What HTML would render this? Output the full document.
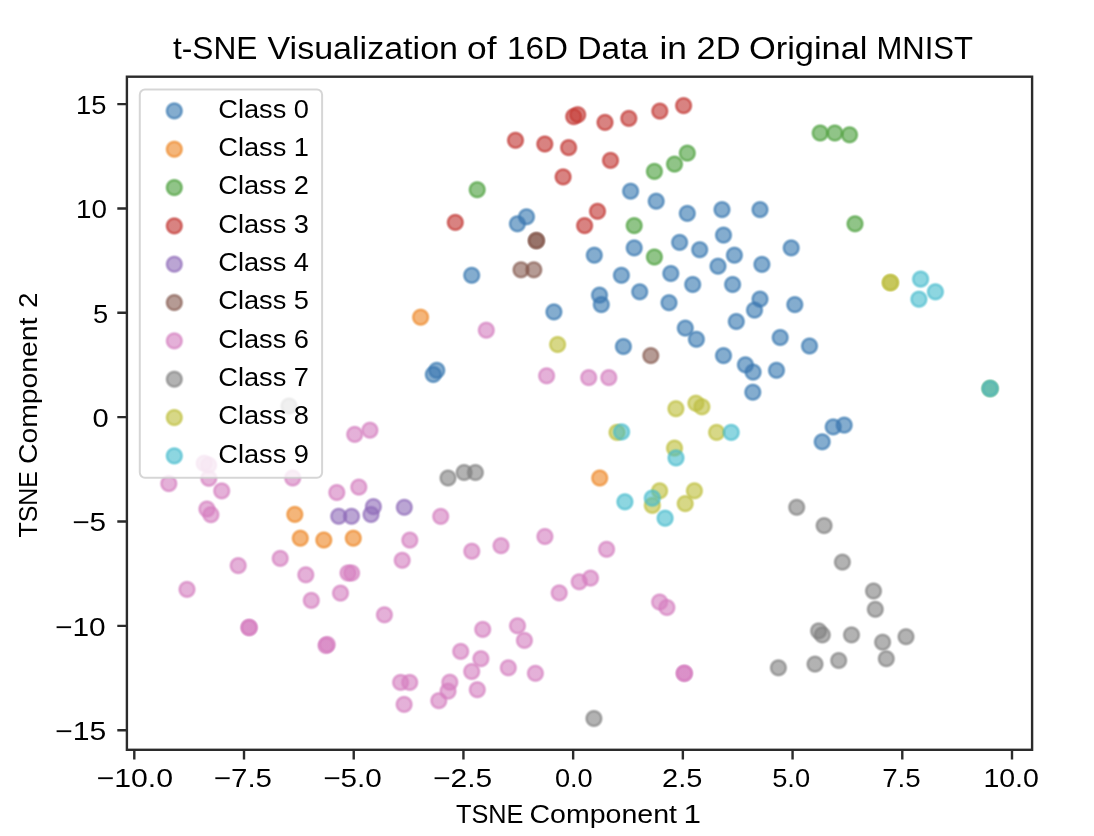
<!DOCTYPE html><html><head><meta charset="utf-8"><title>t-SNE Visualization</title>
<style>html,body{margin:0;padding:0;background:#fff;}svg{display:block;}text{font-family:"Liberation Sans", sans-serif;fill:#000;}</style></head><body>
<svg width="1094" height="836" viewBox="0 0 1094 836">
<defs><filter id="p3" filterUnits="userSpaceOnUse" x="0" y="0" width="1094" height="836" color-interpolation-filters="linearRGB"><feColorMatrix type="matrix" values="0.8225 0.1774 0 0 0 0.0332 0.9669 0 0 0 0.0171 0.0724 0.9108 0 0 0 0 0 1 0"/></filter></defs>
<g filter="url(#p3)">
<rect x="0" y="0" width="1094" height="836" fill="#fff"/>
<defs>
<radialGradient id="g0" cx="0.5" cy="0.5" r="0.5"><stop offset="0.0000" stop-color="#1f77b4" stop-opacity="0.600"/><stop offset="0.4157" stop-color="#1f77b4" stop-opacity="0.597"/><stop offset="0.4850" stop-color="#1f77b4" stop-opacity="0.625"/><stop offset="0.5312" stop-color="#1f77b4" stop-opacity="0.668"/><stop offset="0.5774" stop-color="#1f77b4" stop-opacity="0.720"/><stop offset="0.6236" stop-color="#1f77b4" stop-opacity="0.748"/><stop offset="0.6698" stop-color="#1f77b4" stop-opacity="0.731"/><stop offset="0.7160" stop-color="#1f77b4" stop-opacity="0.659"/><stop offset="0.7621" stop-color="#1f77b4" stop-opacity="0.517"/><stop offset="0.8083" stop-color="#1f77b4" stop-opacity="0.357"/><stop offset="0.8545" stop-color="#1f77b4" stop-opacity="0.205"/><stop offset="0.9007" stop-color="#1f77b4" stop-opacity="0.083"/><stop offset="0.9469" stop-color="#1f77b4" stop-opacity="0.014"/><stop offset="0.9700" stop-color="#1f77b4" stop-opacity="0.000"/></radialGradient>
<radialGradient id="g1" cx="0.5" cy="0.5" r="0.5"><stop offset="0.0000" stop-color="#ff7f0e" stop-opacity="0.600"/><stop offset="0.4157" stop-color="#ff7f0e" stop-opacity="0.597"/><stop offset="0.4850" stop-color="#ff7f0e" stop-opacity="0.625"/><stop offset="0.5312" stop-color="#ff7f0e" stop-opacity="0.668"/><stop offset="0.5774" stop-color="#ff7f0e" stop-opacity="0.720"/><stop offset="0.6236" stop-color="#ff7f0e" stop-opacity="0.748"/><stop offset="0.6698" stop-color="#ff7f0e" stop-opacity="0.731"/><stop offset="0.7160" stop-color="#ff7f0e" stop-opacity="0.659"/><stop offset="0.7621" stop-color="#ff7f0e" stop-opacity="0.517"/><stop offset="0.8083" stop-color="#ff7f0e" stop-opacity="0.357"/><stop offset="0.8545" stop-color="#ff7f0e" stop-opacity="0.205"/><stop offset="0.9007" stop-color="#ff7f0e" stop-opacity="0.083"/><stop offset="0.9469" stop-color="#ff7f0e" stop-opacity="0.014"/><stop offset="0.9700" stop-color="#ff7f0e" stop-opacity="0.000"/></radialGradient>
<radialGradient id="g2" cx="0.5" cy="0.5" r="0.5"><stop offset="0.0000" stop-color="#2ca02c" stop-opacity="0.600"/><stop offset="0.4157" stop-color="#2ca02c" stop-opacity="0.597"/><stop offset="0.4850" stop-color="#2ca02c" stop-opacity="0.625"/><stop offset="0.5312" stop-color="#2ca02c" stop-opacity="0.668"/><stop offset="0.5774" stop-color="#2ca02c" stop-opacity="0.720"/><stop offset="0.6236" stop-color="#2ca02c" stop-opacity="0.748"/><stop offset="0.6698" stop-color="#2ca02c" stop-opacity="0.731"/><stop offset="0.7160" stop-color="#2ca02c" stop-opacity="0.659"/><stop offset="0.7621" stop-color="#2ca02c" stop-opacity="0.517"/><stop offset="0.8083" stop-color="#2ca02c" stop-opacity="0.357"/><stop offset="0.8545" stop-color="#2ca02c" stop-opacity="0.205"/><stop offset="0.9007" stop-color="#2ca02c" stop-opacity="0.083"/><stop offset="0.9469" stop-color="#2ca02c" stop-opacity="0.014"/><stop offset="0.9700" stop-color="#2ca02c" stop-opacity="0.000"/></radialGradient>
<radialGradient id="g3" cx="0.5" cy="0.5" r="0.5"><stop offset="0.0000" stop-color="#d62728" stop-opacity="0.600"/><stop offset="0.4157" stop-color="#d62728" stop-opacity="0.597"/><stop offset="0.4850" stop-color="#d62728" stop-opacity="0.625"/><stop offset="0.5312" stop-color="#d62728" stop-opacity="0.668"/><stop offset="0.5774" stop-color="#d62728" stop-opacity="0.720"/><stop offset="0.6236" stop-color="#d62728" stop-opacity="0.748"/><stop offset="0.6698" stop-color="#d62728" stop-opacity="0.731"/><stop offset="0.7160" stop-color="#d62728" stop-opacity="0.659"/><stop offset="0.7621" stop-color="#d62728" stop-opacity="0.517"/><stop offset="0.8083" stop-color="#d62728" stop-opacity="0.357"/><stop offset="0.8545" stop-color="#d62728" stop-opacity="0.205"/><stop offset="0.9007" stop-color="#d62728" stop-opacity="0.083"/><stop offset="0.9469" stop-color="#d62728" stop-opacity="0.014"/><stop offset="0.9700" stop-color="#d62728" stop-opacity="0.000"/></radialGradient>
<radialGradient id="g4" cx="0.5" cy="0.5" r="0.5"><stop offset="0.0000" stop-color="#9467bd" stop-opacity="0.600"/><stop offset="0.4157" stop-color="#9467bd" stop-opacity="0.597"/><stop offset="0.4850" stop-color="#9467bd" stop-opacity="0.625"/><stop offset="0.5312" stop-color="#9467bd" stop-opacity="0.668"/><stop offset="0.5774" stop-color="#9467bd" stop-opacity="0.720"/><stop offset="0.6236" stop-color="#9467bd" stop-opacity="0.748"/><stop offset="0.6698" stop-color="#9467bd" stop-opacity="0.731"/><stop offset="0.7160" stop-color="#9467bd" stop-opacity="0.659"/><stop offset="0.7621" stop-color="#9467bd" stop-opacity="0.517"/><stop offset="0.8083" stop-color="#9467bd" stop-opacity="0.357"/><stop offset="0.8545" stop-color="#9467bd" stop-opacity="0.205"/><stop offset="0.9007" stop-color="#9467bd" stop-opacity="0.083"/><stop offset="0.9469" stop-color="#9467bd" stop-opacity="0.014"/><stop offset="0.9700" stop-color="#9467bd" stop-opacity="0.000"/></radialGradient>
<radialGradient id="g5" cx="0.5" cy="0.5" r="0.5"><stop offset="0.0000" stop-color="#8c564b" stop-opacity="0.600"/><stop offset="0.4157" stop-color="#8c564b" stop-opacity="0.597"/><stop offset="0.4850" stop-color="#8c564b" stop-opacity="0.625"/><stop offset="0.5312" stop-color="#8c564b" stop-opacity="0.668"/><stop offset="0.5774" stop-color="#8c564b" stop-opacity="0.720"/><stop offset="0.6236" stop-color="#8c564b" stop-opacity="0.748"/><stop offset="0.6698" stop-color="#8c564b" stop-opacity="0.731"/><stop offset="0.7160" stop-color="#8c564b" stop-opacity="0.659"/><stop offset="0.7621" stop-color="#8c564b" stop-opacity="0.517"/><stop offset="0.8083" stop-color="#8c564b" stop-opacity="0.357"/><stop offset="0.8545" stop-color="#8c564b" stop-opacity="0.205"/><stop offset="0.9007" stop-color="#8c564b" stop-opacity="0.083"/><stop offset="0.9469" stop-color="#8c564b" stop-opacity="0.014"/><stop offset="0.9700" stop-color="#8c564b" stop-opacity="0.000"/></radialGradient>
<radialGradient id="g6" cx="0.5" cy="0.5" r="0.5"><stop offset="0.0000" stop-color="#e377c2" stop-opacity="0.600"/><stop offset="0.4157" stop-color="#e377c2" stop-opacity="0.597"/><stop offset="0.4850" stop-color="#e377c2" stop-opacity="0.625"/><stop offset="0.5312" stop-color="#e377c2" stop-opacity="0.668"/><stop offset="0.5774" stop-color="#e377c2" stop-opacity="0.720"/><stop offset="0.6236" stop-color="#e377c2" stop-opacity="0.748"/><stop offset="0.6698" stop-color="#e377c2" stop-opacity="0.731"/><stop offset="0.7160" stop-color="#e377c2" stop-opacity="0.659"/><stop offset="0.7621" stop-color="#e377c2" stop-opacity="0.517"/><stop offset="0.8083" stop-color="#e377c2" stop-opacity="0.357"/><stop offset="0.8545" stop-color="#e377c2" stop-opacity="0.205"/><stop offset="0.9007" stop-color="#e377c2" stop-opacity="0.083"/><stop offset="0.9469" stop-color="#e377c2" stop-opacity="0.014"/><stop offset="0.9700" stop-color="#e377c2" stop-opacity="0.000"/></radialGradient>
<radialGradient id="g7" cx="0.5" cy="0.5" r="0.5"><stop offset="0.0000" stop-color="#7f7f7f" stop-opacity="0.600"/><stop offset="0.4157" stop-color="#7f7f7f" stop-opacity="0.597"/><stop offset="0.4850" stop-color="#7f7f7f" stop-opacity="0.625"/><stop offset="0.5312" stop-color="#7f7f7f" stop-opacity="0.668"/><stop offset="0.5774" stop-color="#7f7f7f" stop-opacity="0.720"/><stop offset="0.6236" stop-color="#7f7f7f" stop-opacity="0.748"/><stop offset="0.6698" stop-color="#7f7f7f" stop-opacity="0.731"/><stop offset="0.7160" stop-color="#7f7f7f" stop-opacity="0.659"/><stop offset="0.7621" stop-color="#7f7f7f" stop-opacity="0.517"/><stop offset="0.8083" stop-color="#7f7f7f" stop-opacity="0.357"/><stop offset="0.8545" stop-color="#7f7f7f" stop-opacity="0.205"/><stop offset="0.9007" stop-color="#7f7f7f" stop-opacity="0.083"/><stop offset="0.9469" stop-color="#7f7f7f" stop-opacity="0.014"/><stop offset="0.9700" stop-color="#7f7f7f" stop-opacity="0.000"/></radialGradient>
<radialGradient id="g8" cx="0.5" cy="0.5" r="0.5"><stop offset="0.0000" stop-color="#bcbd22" stop-opacity="0.600"/><stop offset="0.4157" stop-color="#bcbd22" stop-opacity="0.597"/><stop offset="0.4850" stop-color="#bcbd22" stop-opacity="0.625"/><stop offset="0.5312" stop-color="#bcbd22" stop-opacity="0.668"/><stop offset="0.5774" stop-color="#bcbd22" stop-opacity="0.720"/><stop offset="0.6236" stop-color="#bcbd22" stop-opacity="0.748"/><stop offset="0.6698" stop-color="#bcbd22" stop-opacity="0.731"/><stop offset="0.7160" stop-color="#bcbd22" stop-opacity="0.659"/><stop offset="0.7621" stop-color="#bcbd22" stop-opacity="0.517"/><stop offset="0.8083" stop-color="#bcbd22" stop-opacity="0.357"/><stop offset="0.8545" stop-color="#bcbd22" stop-opacity="0.205"/><stop offset="0.9007" stop-color="#bcbd22" stop-opacity="0.083"/><stop offset="0.9469" stop-color="#bcbd22" stop-opacity="0.014"/><stop offset="0.9700" stop-color="#bcbd22" stop-opacity="0.000"/></radialGradient>
<radialGradient id="g9" cx="0.5" cy="0.5" r="0.5"><stop offset="0.0000" stop-color="#17becf" stop-opacity="0.600"/><stop offset="0.4157" stop-color="#17becf" stop-opacity="0.597"/><stop offset="0.4850" stop-color="#17becf" stop-opacity="0.625"/><stop offset="0.5312" stop-color="#17becf" stop-opacity="0.668"/><stop offset="0.5774" stop-color="#17becf" stop-opacity="0.720"/><stop offset="0.6236" stop-color="#17becf" stop-opacity="0.748"/><stop offset="0.6698" stop-color="#17becf" stop-opacity="0.731"/><stop offset="0.7160" stop-color="#17becf" stop-opacity="0.659"/><stop offset="0.7621" stop-color="#17becf" stop-opacity="0.517"/><stop offset="0.8083" stop-color="#17becf" stop-opacity="0.357"/><stop offset="0.8545" stop-color="#17becf" stop-opacity="0.205"/><stop offset="0.9007" stop-color="#17becf" stop-opacity="0.083"/><stop offset="0.9469" stop-color="#17becf" stop-opacity="0.014"/><stop offset="0.9700" stop-color="#17becf" stop-opacity="0.000"/></radialGradient>
</defs>
<defs><clipPath id="axclip"><rect x="126.9" y="76.7" width="905.2" height="673.1"/></clipPath></defs>
<g clip-path="url(#axclip)">
<g fill="url(#g0)">
<circle cx="526.5" cy="216.8" r="10.50"/>
<circle cx="517.4" cy="223.8" r="10.50"/>
<circle cx="630.6" cy="191.2" r="10.50"/>
<circle cx="656.2" cy="201.2" r="10.50"/>
<circle cx="687.3" cy="213.4" r="10.50"/>
<circle cx="722.0" cy="209.6" r="10.50"/>
<circle cx="760.0" cy="209.6" r="10.50"/>
<circle cx="723.5" cy="235.1" r="10.50"/>
<circle cx="679.6" cy="242.4" r="10.50"/>
<circle cx="699.7" cy="249.7" r="10.50"/>
<circle cx="634.2" cy="247.9" r="10.50"/>
<circle cx="594.3" cy="255.2" r="10.50"/>
<circle cx="734.4" cy="255.2" r="10.50"/>
<circle cx="718.0" cy="266.2" r="10.50"/>
<circle cx="761.9" cy="264.4" r="10.50"/>
<circle cx="791.2" cy="247.9" r="10.50"/>
<circle cx="621.4" cy="275.3" r="10.50"/>
<circle cx="670.8" cy="273.5" r="10.50"/>
<circle cx="692.7" cy="284.5" r="10.50"/>
<circle cx="732.6" cy="284.5" r="10.50"/>
<circle cx="639.7" cy="291.8" r="10.50"/>
<circle cx="599.5" cy="295.1" r="10.50"/>
<circle cx="601.3" cy="304.6" r="10.50"/>
<circle cx="669.0" cy="302.7" r="10.50"/>
<circle cx="760.0" cy="299.1" r="10.50"/>
<circle cx="754.5" cy="310.1" r="10.50"/>
<circle cx="794.8" cy="304.6" r="10.50"/>
<circle cx="736.3" cy="321.5" r="10.50"/>
<circle cx="685.3" cy="328.1" r="10.50"/>
<circle cx="696.4" cy="339.3" r="10.50"/>
<circle cx="780.2" cy="337.5" r="10.50"/>
<circle cx="809.5" cy="346.0" r="10.50"/>
<circle cx="623.4" cy="346.5" r="10.50"/>
<circle cx="553.9" cy="311.9" r="10.50"/>
<circle cx="471.7" cy="275.3" r="10.50"/>
<circle cx="433.3" cy="374.5" r="10.50"/>
<circle cx="436.8" cy="370.3" r="10.50"/>
<circle cx="723.5" cy="355.6" r="10.50"/>
<circle cx="745.4" cy="364.8" r="10.50"/>
<circle cx="753.1" cy="372.1" r="10.50"/>
<circle cx="776.5" cy="370.3" r="10.50"/>
<circle cx="752.8" cy="392.2" r="10.50"/>
<circle cx="833.2" cy="426.9" r="10.50"/>
<circle cx="844.2" cy="425.1" r="10.50"/>
<circle cx="822.2" cy="441.8" r="10.50"/>
</g>
<g fill="url(#g1)">
<circle cx="420.6" cy="317.2" r="10.50"/>
<circle cx="599.7" cy="478.0" r="10.50"/>
<circle cx="294.8" cy="514.4" r="10.50"/>
<circle cx="300.3" cy="538.2" r="10.50"/>
<circle cx="323.8" cy="540.0" r="10.50"/>
<circle cx="353.3" cy="538.2" r="10.50"/>
</g>
<g fill="url(#g2)">
<circle cx="477.2" cy="189.7" r="10.50"/>
<circle cx="687.3" cy="153.1" r="10.50"/>
<circle cx="674.5" cy="164.1" r="10.50"/>
<circle cx="654.4" cy="171.4" r="10.50"/>
<circle cx="634.2" cy="225.6" r="10.50"/>
<circle cx="820.2" cy="133.0" r="10.50"/>
<circle cx="834.8" cy="133.0" r="10.50"/>
<circle cx="849.5" cy="134.8" r="10.50"/>
<circle cx="855.0" cy="223.8" r="10.50"/>
<circle cx="654.4" cy="257.0" r="10.50"/>
<circle cx="990.1" cy="388.5" r="10.50"/>
</g>
<g fill="url(#g3)">
<circle cx="455.3" cy="222.4" r="10.50"/>
<circle cx="573.7" cy="116.6" r="10.50"/>
<circle cx="577.7" cy="114.7" r="10.50"/>
<circle cx="515.5" cy="140.3" r="10.50"/>
<circle cx="544.8" cy="144.0" r="10.50"/>
<circle cx="568.6" cy="147.6" r="10.50"/>
<circle cx="563.1" cy="176.9" r="10.50"/>
<circle cx="605.0" cy="122.4" r="10.50"/>
<circle cx="628.8" cy="118.4" r="10.50"/>
<circle cx="659.8" cy="111.1" r="10.50"/>
<circle cx="683.6" cy="105.6" r="10.50"/>
<circle cx="610.5" cy="160.4" r="10.50"/>
<circle cx="597.5" cy="211.3" r="10.50"/>
<circle cx="584.6" cy="225.6" r="10.50"/>
</g>
<g fill="url(#g4)">
<circle cx="404.3" cy="507.3" r="10.50"/>
<circle cx="338.7" cy="516.3" r="10.50"/>
<circle cx="351.5" cy="516.3" r="10.50"/>
<circle cx="373.4" cy="506.6" r="10.50"/>
<circle cx="371.0" cy="514.5" r="10.50"/>
</g>
<g fill="url(#g5)">
<circle cx="536.4" cy="240.6" r="10.50"/>
<circle cx="536.4" cy="240.6" r="10.50"/>
<circle cx="521.0" cy="269.8" r="10.50"/>
<circle cx="533.8" cy="269.8" r="10.50"/>
<circle cx="650.8" cy="355.6" r="10.50"/>
</g>
<g fill="url(#g6)">
<circle cx="486.3" cy="330.2" r="10.50"/>
<circle cx="546.6" cy="375.8" r="10.50"/>
<circle cx="588.7" cy="377.6" r="10.50"/>
<circle cx="608.8" cy="377.6" r="10.50"/>
<circle cx="354.7" cy="434.4" r="10.50"/>
<circle cx="369.9" cy="430.2" r="10.50"/>
<circle cx="440.7" cy="516.4" r="10.50"/>
<circle cx="409.8" cy="540.1" r="10.50"/>
<circle cx="402.2" cy="560.3" r="10.50"/>
<circle cx="471.8" cy="551.2" r="10.50"/>
<circle cx="501.0" cy="545.7" r="10.50"/>
<circle cx="544.9" cy="536.5" r="10.50"/>
<circle cx="606.6" cy="549.3" r="10.50"/>
<circle cx="590.5" cy="578.1" r="10.50"/>
<circle cx="579.2" cy="581.8" r="10.50"/>
<circle cx="559.2" cy="592.9" r="10.50"/>
<circle cx="659.6" cy="602.0" r="10.50"/>
<circle cx="666.9" cy="607.5" r="10.50"/>
<circle cx="684.3" cy="673.3" r="10.50"/>
<circle cx="684.3" cy="673.3" r="10.50"/>
<circle cx="384.4" cy="614.8" r="10.50"/>
<circle cx="482.7" cy="629.4" r="10.50"/>
<circle cx="517.5" cy="625.8" r="10.50"/>
<circle cx="524.4" cy="640.4" r="10.50"/>
<circle cx="460.7" cy="651.4" r="10.50"/>
<circle cx="480.9" cy="658.7" r="10.50"/>
<circle cx="471.7" cy="671.5" r="10.50"/>
<circle cx="508.3" cy="667.8" r="10.50"/>
<circle cx="535.4" cy="673.3" r="10.50"/>
<circle cx="400.6" cy="682.4" r="10.50"/>
<circle cx="409.7" cy="682.4" r="10.50"/>
<circle cx="449.8" cy="682.2" r="10.50"/>
<circle cx="448.0" cy="691.2" r="10.50"/>
<circle cx="438.8" cy="700.7" r="10.50"/>
<circle cx="477.3" cy="689.7" r="10.50"/>
<circle cx="404.1" cy="704.4" r="10.50"/>
<circle cx="168.8" cy="483.6" r="10.50"/>
<circle cx="204.2" cy="463.3" r="10.50"/>
<circle cx="208.6" cy="465.1" r="10.50"/>
<circle cx="208.8" cy="478.3" r="10.50"/>
<circle cx="221.7" cy="490.9" r="10.50"/>
<circle cx="206.9" cy="509.0" r="10.50"/>
<circle cx="210.9" cy="514.7" r="10.50"/>
<circle cx="292.7" cy="478.0" r="10.50"/>
<circle cx="336.8" cy="492.5" r="10.50"/>
<circle cx="358.8" cy="487.1" r="10.50"/>
<circle cx="348.0" cy="573.0" r="10.50"/>
<circle cx="351.6" cy="573.0" r="10.50"/>
<circle cx="280.2" cy="558.4" r="10.50"/>
<circle cx="305.8" cy="574.8" r="10.50"/>
<circle cx="340.5" cy="593.1" r="10.50"/>
<circle cx="311.3" cy="600.4" r="10.50"/>
<circle cx="238.2" cy="565.6" r="10.50"/>
<circle cx="187.0" cy="589.4" r="10.50"/>
<circle cx="249.1" cy="627.5" r="10.50"/>
<circle cx="249.1" cy="627.5" r="10.50"/>
<circle cx="326.0" cy="645.5" r="10.50"/>
<circle cx="327.2" cy="644.5" r="10.50"/>
</g>
<g fill="url(#g7)">
<circle cx="289.0" cy="406.0" r="10.50"/>
<circle cx="448.0" cy="478.0" r="10.50"/>
<circle cx="464.1" cy="472.5" r="10.50"/>
<circle cx="475.4" cy="472.5" r="10.50"/>
<circle cx="796.7" cy="507.3" r="10.50"/>
<circle cx="824.1" cy="525.6" r="10.50"/>
<circle cx="842.4" cy="562.1" r="10.50"/>
<circle cx="873.5" cy="591.0" r="10.50"/>
<circle cx="875.3" cy="609.3" r="10.50"/>
<circle cx="818.6" cy="630.9" r="10.50"/>
<circle cx="822.3" cy="634.9" r="10.50"/>
<circle cx="851.5" cy="634.9" r="10.50"/>
<circle cx="882.6" cy="642.2" r="10.50"/>
<circle cx="906.0" cy="636.7" r="10.50"/>
<circle cx="886.3" cy="658.7" r="10.50"/>
<circle cx="838.7" cy="660.5" r="10.50"/>
<circle cx="815.0" cy="664.1" r="10.50"/>
<circle cx="778.4" cy="667.8" r="10.50"/>
<circle cx="593.9" cy="718.5" r="10.50"/>
</g>
<g fill="url(#g8)">
<circle cx="890.4" cy="282.6" r="10.50"/>
<circle cx="890.4" cy="282.6" r="10.50"/>
<circle cx="557.6" cy="344.5" r="10.50"/>
<circle cx="695.9" cy="403.2" r="10.50"/>
<circle cx="701.9" cy="406.8" r="10.50"/>
<circle cx="675.9" cy="408.7" r="10.50"/>
<circle cx="617.0" cy="432.4" r="10.50"/>
<circle cx="674.5" cy="448.1" r="10.50"/>
<circle cx="716.6" cy="432.4" r="10.50"/>
<circle cx="659.6" cy="490.8" r="10.50"/>
<circle cx="652.3" cy="505.4" r="10.50"/>
<circle cx="694.4" cy="490.8" r="10.50"/>
<circle cx="685.2" cy="503.6" r="10.50"/>
</g>
<g fill="url(#g9)">
<circle cx="920.6" cy="279.1" r="10.50"/>
<circle cx="935.4" cy="291.8" r="10.50"/>
<circle cx="918.9" cy="299.2" r="10.50"/>
<circle cx="990.1" cy="388.5" r="10.50"/>
<circle cx="621.6" cy="431.9" r="10.50"/>
<circle cx="731.2" cy="432.4" r="10.50"/>
<circle cx="676.0" cy="457.9" r="10.50"/>
<circle cx="624.9" cy="501.8" r="10.50"/>
<circle cx="652.3" cy="498.1" r="10.50"/>
<circle cx="665.1" cy="518.2" r="10.50"/>
</g>
</g>
<rect x="126.90" y="76.70" width="905.20" height="673.10" fill="none" stroke="#2b2b2b" stroke-width="2.4"/>
<path d="M117.30 104.10H126.90 M117.30 208.45H126.90 M117.30 312.80H126.90 M117.30 417.15H126.90 M117.30 521.50H126.90 M117.30 625.85H126.90 M117.30 730.20H126.90 M134.30 749.80V759.40 M244.01 749.80V759.40 M353.73 749.80V759.40 M463.44 749.80V759.40 M573.15 749.80V759.40 M682.86 749.80V759.40 M792.57 749.80V759.40 M902.29 749.80V759.40 M1012.00 749.80V759.40" stroke="#2b2b2b" stroke-width="2.4" fill="none"/>
<rect x="139.80" y="89.50" width="182.30" height="388.30" rx="5.2" ry="5.2" fill="#fff" fill-opacity="0.8" stroke="#ccc" stroke-opacity="0.8" stroke-width="2"/>
<circle cx="174.3" cy="110.90" r="10.50" fill="url(#g0)"/>
<circle cx="174.3" cy="149.23" r="10.50" fill="url(#g1)"/>
<circle cx="174.3" cy="187.56" r="10.50" fill="url(#g2)"/>
<circle cx="174.3" cy="225.89" r="10.50" fill="url(#g3)"/>
<circle cx="174.3" cy="264.22" r="10.50" fill="url(#g4)"/>
<circle cx="174.3" cy="302.55" r="10.50" fill="url(#g5)"/>
<circle cx="174.3" cy="340.88" r="10.50" fill="url(#g6)"/>
<circle cx="174.3" cy="379.21" r="10.50" fill="url(#g7)"/>
<circle cx="174.3" cy="417.54" r="10.50" fill="url(#g8)"/>
<circle cx="174.3" cy="455.87" r="10.50" fill="url(#g9)"/>
<text id="yt15" x="76.10" y="113.95" font-size="25.80" textLength="30.40" lengthAdjust="spacingAndGlyphs">15</text>
<text id="yt10" x="76.10" y="218.30" font-size="25.80" textLength="30.90" lengthAdjust="spacingAndGlyphs">10</text>
<text id="yt5" x="93.10" y="322.65" font-size="25.80" textLength="15.20" lengthAdjust="spacingAndGlyphs">5</text>
<text id="yt0" x="92.60" y="427.00" font-size="25.80" textLength="16.20" lengthAdjust="spacingAndGlyphs">0</text>
<text id="yt-5" x="72.20" y="531.35" font-size="25.80" textLength="33.90" lengthAdjust="spacingAndGlyphs">−5</text>
<text id="yt-10" x="55.10" y="635.70" font-size="25.80" textLength="50.60" lengthAdjust="spacingAndGlyphs">−10</text>
<text id="yt-15" x="55.10" y="740.05" font-size="25.80" textLength="51.10" lengthAdjust="spacingAndGlyphs">−15</text>
<text id="xt-10" x="96.60" y="787.30" font-size="25.80" textLength="76.50" lengthAdjust="spacingAndGlyphs">−10.0</text>
<text id="xt-7.5" x="213.80" y="787.30" font-size="25.80" textLength="58.20" lengthAdjust="spacingAndGlyphs">−7.5</text>
<text id="xt-5" x="323.20" y="787.30" font-size="25.80" textLength="58.60" lengthAdjust="spacingAndGlyphs">−5.0</text>
<text id="xt-2.5" x="433.10" y="787.30" font-size="25.80" textLength="59.10" lengthAdjust="spacingAndGlyphs">−2.5</text>
<text id="xt0" x="554.90" y="787.30" font-size="25.80" textLength="37.80" lengthAdjust="spacingAndGlyphs">0.0</text>
<text id="xt2.5" x="662.10" y="787.30" font-size="25.80" textLength="40.30" lengthAdjust="spacingAndGlyphs">2.5</text>
<text id="xt5" x="772.20" y="787.30" font-size="25.80" textLength="37.90" lengthAdjust="spacingAndGlyphs">5.0</text>
<text id="xt7.5" x="882.20" y="787.30" font-size="25.80" textLength="38.50" lengthAdjust="spacingAndGlyphs">7.5</text>
<text id="xt10" x="983.40" y="787.30" font-size="25.80" textLength="55.50" lengthAdjust="spacingAndGlyphs">10.0</text>
<text id="tw0" x="173.00" y="59.30" font-size="31.00" textLength="84.50" lengthAdjust="spacingAndGlyphs">t-SNE</text>
<text id="tw1" x="267.50" y="59.30" font-size="31.00" textLength="190.50" lengthAdjust="spacingAndGlyphs">Visualization</text>
<text id="tw2" x="467.00" y="59.30" font-size="31.00" textLength="29.50" lengthAdjust="spacingAndGlyphs">of</text>
<text id="tw3" x="507.00" y="59.30" font-size="31.00" textLength="61.00" lengthAdjust="spacingAndGlyphs">16D</text>
<text id="tw4" x="577.50" y="59.30" font-size="31.00" textLength="70.50" lengthAdjust="spacingAndGlyphs">Data</text>
<text id="tw5" x="659.50" y="59.30" font-size="31.00" textLength="27.50" lengthAdjust="spacingAndGlyphs">in</text>
<text id="tw6" x="696.50" y="59.30" font-size="31.00" textLength="44.00" lengthAdjust="spacingAndGlyphs">2D</text>
<text id="tw7" x="749.00" y="59.30" font-size="31.00" textLength="118.50" lengthAdjust="spacingAndGlyphs">Original</text>
<text id="tw8" x="876.50" y="59.30" font-size="31.00" textLength="96.50" lengthAdjust="spacingAndGlyphs">MNIST</text>
<text id="xl0" x="456.00" y="822.80" font-size="25.80" textLength="67.50" lengthAdjust="spacingAndGlyphs">TSNE</text>
<text id="xl1" x="529.50" y="822.80" font-size="25.80" textLength="147.50" lengthAdjust="spacingAndGlyphs">Component</text>
<text id="xl2" x="683.50" y="822.80" font-size="25.80" textLength="17.50" lengthAdjust="spacingAndGlyphs">1</text>
<text id="yl0" transform="translate(36.50 537.50) rotate(-90)" x="0" y="0" font-size="25.80" textLength="66.50" lengthAdjust="spacingAndGlyphs">TSNE</text>
<text id="yl1" transform="translate(36.50 464.00) rotate(-90)" x="0" y="0" font-size="25.80" textLength="146.50" lengthAdjust="spacingAndGlyphs">Component</text>
<text id="yl2" transform="translate(36.50 308.00) rotate(-90)" x="0" y="0" font-size="25.80" textLength="15.50" lengthAdjust="spacingAndGlyphs">2</text>
<text id="leg0" x="218.30" y="117.60" font-size="25.80" textLength="90.70" lengthAdjust="spacingAndGlyphs">Class 0</text>
<text id="leg1" x="218.30" y="155.93" font-size="25.80" textLength="90.70" lengthAdjust="spacingAndGlyphs">Class 1</text>
<text id="leg2" x="218.30" y="194.26" font-size="25.80" textLength="90.70" lengthAdjust="spacingAndGlyphs">Class 2</text>
<text id="leg3" x="218.30" y="232.59" font-size="25.80" textLength="90.70" lengthAdjust="spacingAndGlyphs">Class 3</text>
<text id="leg4" x="218.30" y="270.92" font-size="25.80" textLength="90.70" lengthAdjust="spacingAndGlyphs">Class 4</text>
<text id="leg5" x="218.30" y="309.25" font-size="25.80" textLength="90.70" lengthAdjust="spacingAndGlyphs">Class 5</text>
<text id="leg6" x="218.30" y="347.58" font-size="25.80" textLength="90.70" lengthAdjust="spacingAndGlyphs">Class 6</text>
<text id="leg7" x="218.30" y="385.91" font-size="25.80" textLength="90.70" lengthAdjust="spacingAndGlyphs">Class 7</text>
<text id="leg8" x="218.30" y="424.24" font-size="25.80" textLength="90.70" lengthAdjust="spacingAndGlyphs">Class 8</text>
<text id="leg9" x="218.30" y="462.57" font-size="25.80" textLength="90.70" lengthAdjust="spacingAndGlyphs">Class 9</text>
</g>
</svg></body></html>
